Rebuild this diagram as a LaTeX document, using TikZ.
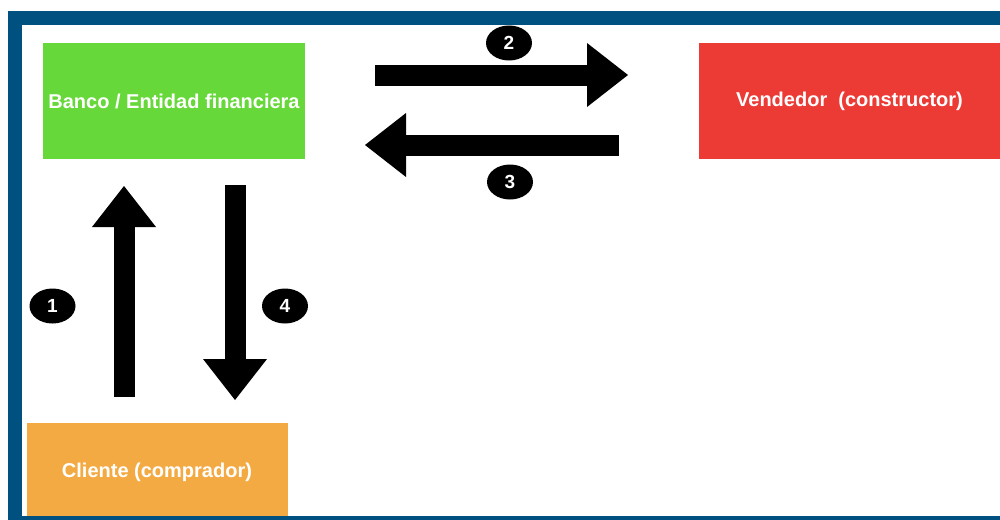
\documentclass[tikz,border=0pt]{standalone}
\usepackage{fontspec}
\setmainfont{Liberation Sans}
\usetikzlibrary{arrows.meta,shapes.geometric}
\definecolor{framebl}{RGB}{0,80,128}
\definecolor{bancogr}{RGB}{102,216,58}
\definecolor{vendrd}{RGB}{236,58,53}
\definecolor{cliorg}{RGB}{244,170,66}
\tikzset{
  actor/.style={rectangle, inner sep=0pt, text=white, font=\fontsize{20}{24}\selectfont\bfseries},
  paso/.style={ellipse, fill=black, text=white, minimum width=46pt, minimum height=35pt, inner sep=0pt, font=\fontsize{19}{21}\selectfont\bfseries},
  flecha/.style={line width=21pt, -{Triangle[length=41pt,width=64pt,line width=0pt]}}
}
\begin{document}
\begin{tikzpicture}[x=1pt,y=-1pt]
\useasboundingbox (0,0) rectangle (1000,519);
\clip (0,0) rectangle (1000,519);
% actores
\node[actor, fill=bancogr, minimum width=262pt, minimum height=116pt] (banco) at (174,101) {Banco / Entidad financiera};
\node[actor, fill=vendrd, minimum width=301pt, minimum height=116pt] (vendedor) at (849.5,101) {Vendedor\ \ (constructor)};
\node[actor, fill=cliorg, minimum width=261pt, minimum height=98pt] (cliente) at (157,472) {Cliente (comprador)};
% flechas
\coordinate (a1s) at (124,397); \coordinate (a1e) at (124,186);
\coordinate (a2s) at (375,75);  \coordinate (a2e) at (628,75);
\coordinate (a3s) at (619,145); \coordinate (a3e) at (365,145);
\coordinate (a4s) at (235,185); \coordinate (a4e) at (235,400);
\foreach \n in {1,2,3,4}
\draw[flecha] (a\n s) -- (a\n e);
% pasos
\foreach \n/\x/\y in {1/52.5/306, 2/509/43, 3/510/182, 4/285/306}
\node[paso] (p\n) at (\x,\y) {\n};
% marco
\draw[framebl, line width=14pt] (15,18.5) rectangle (1030,523);
\end{tikzpicture}
\end{document}
